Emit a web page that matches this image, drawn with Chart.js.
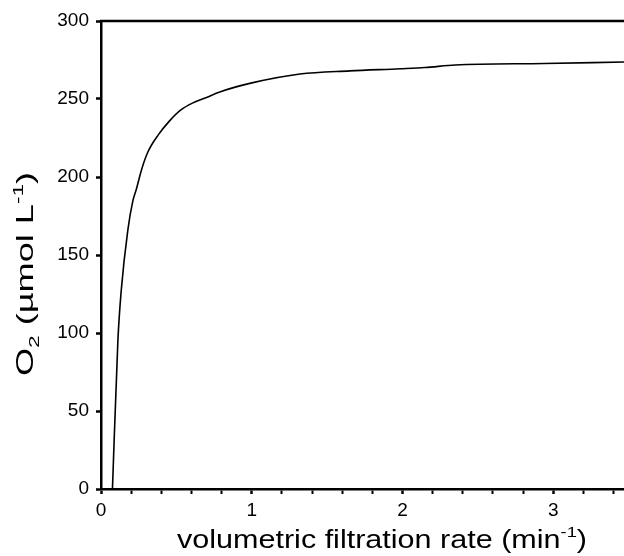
<!DOCTYPE html>
<html>
<head>
<meta charset="utf-8">
<script src="https://cdn.jsdelivr.net/npm/chart.js@4"></script>
<style>
  html, body { margin: 0; padding: 0; background: #fff; }
  #wrap { width: 624px; height: 556px; }
</style>
</head>
<body>
<div id="wrap"><canvas id="chart"></canvas></div>
<script>
// filtration rate (min^-1) vs O2 (umol/L)
var rate = [0.076, 0.112, 0.134, 0.178, 0.212, 0.234, 0.27, 0.311, 0.38, 0.455, 0.53, 0.61, 0.70, 0.788, 0.987, 1.32, 1.65, 1.985, 2.15, 2.35, 2.94, 3.47];
var oxygen = [0, 95, 127, 166, 185, 192, 205, 216, 227, 236, 243, 247.5, 251, 254.5, 260, 266, 268, 269.4, 270.2, 271.8, 272.8, 273.7];
var xTicks = [0, 1, 2, 3];
var yTicks = [0, 50, 100, 150, 200, 250, 300];

var xTitle = [["volumetric filtration rate (min", 25, 0], ["-1", 15, -11], [")", 25, 0]];
var yTitle = [["O", 24, 0], ["2", 15, 6], [" (\u00B5mol L", 24, 0], ["-1", 15, -10], [")", 24, 0]];

var points = rate.map(function (r, i) { return { x: r, y: oxygen[i] }; });
var FONT = "'Liberation Sans', Arial, sans-serif";

// draws a title made of runs (text, size, raise) stretched to a given length
function drawRuns(c, runs, length) {
  var w = 0;
  runs.forEach(function (r) {
    c.font = r[1] + "px " + FONT;
    w += c.measureText(r[0]).width;
  });
  c.scale(length / w, 1);
  var x = 0;
  runs.forEach(function (r) {
    c.font = r[1] + "px " + FONT;
    c.fillText(r[0], x, r[2]);
    x += c.measureText(r[0]).width;
  });
}

var frame = {
  id: "frame",
  afterDraw: function (chart) {
    var a = chart.chartArea, c = chart.ctx;
    c.save();
    c.strokeStyle = "#000";
    c.lineWidth = 2.5;
    c.beginPath();
    c.moveTo(a.left - 1, a.top);
    c.lineTo(a.right, a.top);
    c.stroke();
    c.restore();

    c.save();
    c.fillStyle = "#000";
    c.textBaseline = "alphabetic";
    c.translate(177, 548);
    drawRuns(c, xTitle, 410);
    c.restore();

    c.save();
    c.fillStyle = "#000";
    c.textBaseline = "alphabetic";
    c.translate(33, 376);
    c.rotate(-Math.PI / 2);
    drawRuns(c, yTitle, 204);
    c.restore();
  }
};

var ctx = document.getElementById("chart").getContext("2d");
var myChart = new Chart(ctx, {
  type: "line",
  data: {
    datasets: [{
      data: points,
      borderColor: "#000",
      borderWidth: 1.6,
      pointRadius: 0,
      cubicInterpolationMode: "monotone",
      fill: false
    }]
  },
  options: {
    responsive: true,
    maintainAspectRatio: false,
    animation: false,
    layout: { padding: { top: 21, right: 0, left: 0, bottom: 0 } },
    plugins: { legend: { display: false }, tooltip: { enabled: false } },
    scales: {
      x: {
        type: "linear",
        min: 0,
        max: 3.47,
        afterBuildTicks: function (scale) {
          var t = [];
          for (var i = 0; i <= 17; i++) t.push({ value: Math.round(i * 2) / 10 });
          scale.ticks = t;
        },
        afterFit: function (scale) { scale.height = 67; },
        ticks: {
          color: "#000",
          font: { family: FONT, size: 19 },
          padding: 5,
          maxRotation: 0,
          autoSkip: false,
          callback: function (v) { return xTicks.indexOf(v) >= 0 ? String(v) : ""; }
        },
        grid: {
          drawOnChartArea: false,
          tickLength: 5,
          tickColor: "#000",
          tickWidth: function (c) { return xTicks.indexOf(c.tick && c.tick.value) >= 0 ? 2.5 : 2; }
        },
        border: { color: "#000", width: 2.5 }
      },
      y: {
        min: 0,
        max: 300,
        afterBuildTicks: function (scale) {
          scale.ticks = yTicks.map(function (v) { return { value: v }; });
        },
        afterFit: function (scale) { scale.width = 101; },
        ticks: {
          color: "#000",
          font: { family: FONT, size: 19 },
          padding: 7
        },
        grid: {
          drawOnChartArea: false,
          tickLength: 5,
          tickColor: "#000",
          tickWidth: 2.5
        },
        border: { color: "#000", width: 2.5 }
      }
    }
  },
  plugins: [frame]
});
</script>
</body>
</html>
